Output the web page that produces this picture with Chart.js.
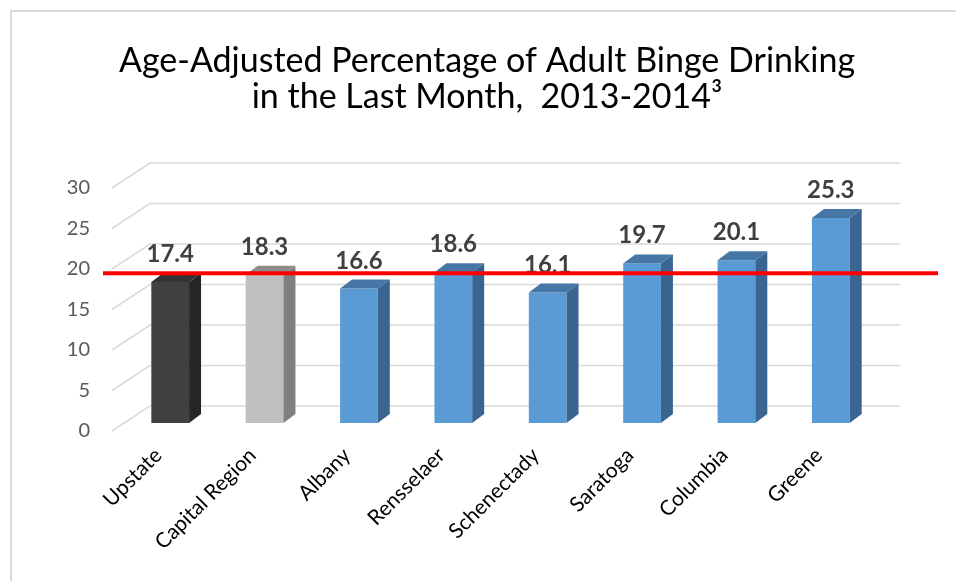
<!DOCTYPE html>
<html>
<head>
<meta charset="utf-8">
<script src="https://cdn.jsdelivr.net/npm/chart.js@4.4.0/dist/chart.umd.min.js"></script>
<style>
    html, body { margin: 0; padding: 0; background: #fff; }
    #wrap { width: 956px; height: 581px; position: relative; }
</style>
</head>
<body>
<div id="wrap"><canvas id="bingeChart"></canvas></div>
<script>
const regions = ['Upstate', 'Capital Region', 'Albany', 'Rensselaer', 'Schenectady', 'Saratoga', 'Columbia', 'Greene'];
const bingePct = [17.4, 18.3, 16.6, 18.6, 16.1, 19.7, 20.1, 25.3];
const yTicks = [0, 5, 10, 15, 20, 25, 30];
const referenceLevel = 18.5;

const frontColors = ['#404040', '#bfbfbf', '#5b9bd5', '#5b9bd5', '#5b9bd5', '#5b9bd5', '#5b9bd5', '#5b9bd5'];
const sideColors = ['#262626', '#7f7f7f', '#3a6590', '#3a6590', '#3a6590', '#3a6590', '#3a6590', '#3a6590'];
const topColors = ['#333333', '#8c8c8c', '#4676a6', '#4676a6', '#4676a6', '#4676a6', '#4676a6', '#4676a6'];

const FONT = 'Lato, "Open Sans", sans-serif';

// fake 3d: walls, bar sides/tops, value labels and the red reference line
const depthBox = {
    id: 'depthBox',
    beforeDraw(chart) {
        const ctx = chart.ctx;
        ctx.save();
        ctx.strokeStyle = '#d9d9d9';
        ctx.lineWidth = 2;
        ctx.beginPath();
        ctx.moveTo(11, chart.height);
        ctx.lineTo(11, 11);
        ctx.lineTo(chart.width, 11);
        ctx.stroke();
        ctx.restore();
    },
    beforeDatasetsDraw(chart) {
        const { ctx, chartArea, scales: { y } } = chart;
        ctx.save();
        ctx.strokeStyle = '#d9d9d9';
        ctx.lineWidth = 1.5;
        yTicks.forEach(v => {
            const py = y.getPixelForValue(v);
            ctx.beginPath();
            ctx.moveTo(chartArea.left - 11, py + 8);
            ctx.lineTo(chartArea.left + 27, py - 17);
            ctx.lineTo(chartArea.right + 22, py - 17);
            ctx.stroke();
        });
        ctx.restore();
    },
    afterDatasetsDraw(chart) {
        const { ctx, chartArea, scales: { y } } = chart;
        const dx = 12, dy = -9;
        ctx.save();
        chart.getDatasetMeta(0).data.forEach((bar, i) => {
            const p = bar.getProps(['x', 'y', 'base', 'width'], true);
            const l = p.x - p.width / 2, r = p.x + p.width / 2;

            ctx.fillStyle = sideColors[i];
            ctx.beginPath();
            ctx.moveTo(r, p.y);
            ctx.lineTo(r + dx, p.y + dy);
            ctx.lineTo(r + dx, p.base + dy);
            ctx.lineTo(r, p.base);
            ctx.closePath();
            ctx.fill();

            ctx.fillStyle = topColors[i];
            ctx.beginPath();
            ctx.moveTo(l, p.y);
            ctx.lineTo(l + dx, p.y + dy);
            ctx.lineTo(r + dx, p.y + dy);
            ctx.lineTo(r, p.y);
            ctx.closePath();
            ctx.fill();

            ctx.fillStyle = '#404040';
            ctx.font = 'bold 24px ' + FONT;
            ctx.textAlign = 'center';
            ctx.textBaseline = 'alphabetic';
            ctx.fillText(bingePct[i].toFixed(1), p.x, p.y - 20);
        });

        const ry = y.getPixelForValue(referenceLevel);
        ctx.strokeStyle = '#ff0000';
        ctx.lineWidth = 4;
        ctx.beginPath();
        ctx.moveTo(chartArea.left - 20, ry);
        ctx.lineTo(chartArea.right + 60, ry);
        ctx.stroke();
        ctx.restore();
    }
};

new Chart(document.getElementById('bingeChart').getContext('2d'), {
    type: 'bar',
    data: {
        labels: regions,
        datasets: [{
            data: bingePct,
            backgroundColor: frontColors,
            borderWidth: 0,
            barPercentage: 0.4,
            categoryPercentage: 1
        }]
    },
    options: {
        responsive: true,
        maintainAspectRatio: false,
        animation: false,
        layout: {
            padding: { left: 18, right: 0, top: 0, bottom: 0 }
        },
        plugins: {
            legend: { display: false },
            tooltip: { enabled: false },
            title: {
                display: true,
                text: ['Age-Adjusted Percentage of Adult Binge Drinking', 'in the Last Month,  2013-2014\u00b3'],
                color: '#000',
                font: { family: FONT, size: 34, weight: 'normal', lineHeight: '36px' },
                padding: { top: 43, bottom: 65 }
            }
        },
        scales: {
            x: {
                grid: { display: false, drawTicks: false },
                border: { display: false },
                ticks: {
                    color: '#000',
                    font: { family: FONT, size: 21 },
                    minRotation: 45,
                    maxRotation: 45,
                    padding: 20,
                    labelOffset: -12
                },
                afterFit: s => { s.height = 158; }
            },
            y: {
                min: 0,
                max: 30,
                grid: { display: false, drawTicks: false },
                border: { display: false },
                ticks: {
                    color: '#595959',
                    font: { family: FONT, size: 20 },
                    padding: 33,
                    labelOffset: 8
                },
                afterBuildTicks: s => { s.ticks = yTicks.map(v => ({ value: v })); },
                afterFit: s => { s.width = 105; }
            },
            // empty right axis, only reserves room behind the walls
            spacer: {
                position: 'right',
                grid: { display: false, drawTicks: false },
                border: { display: false },
                ticks: { display: false },
                afterFit: s => { s.width = 78; }
            }
        }
    },
    plugins: [depthBox]
});
</script>
</body>
</html>
